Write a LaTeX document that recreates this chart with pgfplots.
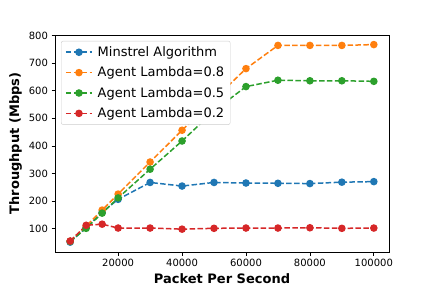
\documentclass[border=0pt]{standalone}
\usepackage{pgfplots}
\pgfplotsset{compat=1.18}
\usepackage{fontspec}
\setmainfont{DejaVu Sans}
\definecolor{c1}{HTML}{1F77B4}
\definecolor{c2}{HTML}{FF7F0E}
\definecolor{c3}{HTML}{2CA02C}
\definecolor{c4}{HTML}{D62728}
\begin{document}
\begin{tikzpicture}
\begin{axis}[
  scale only axis,
  width=334pt, height=217pt,
  xmin=250, xmax=104750,
  ymin=16.3, ymax=801.7,
  xtick={20000,40000,60000,80000,100000},
  ytick={100,200,300,400,500,600,700,800},
  scaled x ticks=false,
  xticklabel style={/pgf/number format/fixed,/pgf/number format/1000 sep={}},
  /pgf/number format/assume math mode=true,
  tick label style={font=\fontsize{10}{12}\selectfont},
  tick align=outside,
  xtick pos=bottom, ytick pos=left,
  major tick length=3.5pt,
  tick style={black, line width=0.8pt},
  axis line style={line width=0.8pt},
  xlabel={\bfseries Packet Per Second},
  ylabel={\bfseries Throughput (Mbps)},
  label style={font=\fontsize{13}{15}\selectfont},
  legend style={at={(0.018,0.973)}, anchor=north west, font=\fontsize{13}{15}\selectfont, draw=black!20, rounded corners=2pt, inner xsep=4pt, inner ysep=3.5pt, row sep=5pt, column sep=3pt},
  legend cell align=left,
  legend image code/.code={\draw[mark repeat=2,mark phase=2] plot coordinates {(0pt,0pt) (13pt,0pt) (26pt,0pt)};},
  every axis plot/.append style={line width=1.5pt, dash pattern=on 5.5pt off 2.4pt, mark=*, mark size=3pt},
  clip=false,
]
\addplot[c1, mark options={solid, fill=c1, draw=c1}] coordinates {
(5000,52) (10000,105) (15000,160) (20000,207) (30000,268) (40000,255) (50000,268) (60000,266) (70000,265) (80000,264) (90000,269) (100000,271)};
\addlegendentry{Minstrel Algorithm}
\addplot[c2, mark options={solid, fill=c2, draw=c2}] coordinates {
(5000,55) (10000,110) (15000,168) (20000,226) (30000,342) (40000,457) (50000,568) (60000,680) (70000,764) (80000,764) (90000,764) (100000,767)};
\addlegendentry{Agent Lambda=0.8}
\addplot[c3, mark options={solid, fill=c3, draw=c3}] coordinates {
(5000,55) (10000,102) (15000,157) (20000,212) (30000,316) (40000,418) (50000,527) (60000,615) (70000,638) (80000,636) (90000,636) (100000,634)};
\addlegendentry{Agent Lambda=0.5}
\addplot[c4, mark options={solid, fill=c4, draw=c4}] coordinates {
(5000,56) (10000,113) (15000,117) (20000,103) (30000,103) (40000,99) (50000,102) (60000,103) (70000,103) (80000,104) (90000,102) (100000,103)};
\addlegendentry{Agent Lambda=0.2}
\path (rel axis cs:-0.16467,-0.16590) rectangle (rel axis cs:1.12874,1.16129);
\end{axis}
\end{tikzpicture}
\end{document}
